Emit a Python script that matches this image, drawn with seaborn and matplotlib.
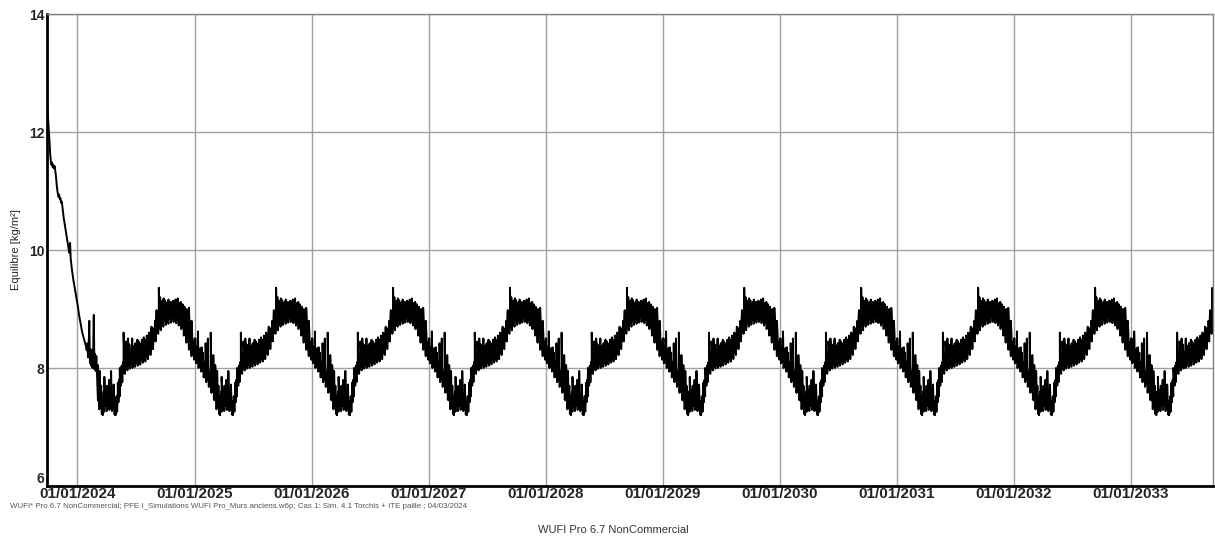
import matplotlib
matplotlib.use("Agg")
import matplotlib.pyplot as plt
import pandas as pd
import seaborn as sns

# ---------------- data ----------------
axis_start = "2023-09-28"
end_date = "2033-09-14"
years = list(range(2024, 2034))
tick_labels = [f"01/01/{y}" for y in years]
y_ticks = [6, 8, 10, 12, 14]

# initial drying transient (days after 2023-09-28)
transient_days = [1] + list(range(2, 157, 2))
transient_vals = [
    12.45, 12.35, 12.15, 11.98, 11.82, 11.62, 11.50, 11.44, 11.48, 11.40,
    11.44, 11.38, 11.42, 11.34, 11.25, 11.12, 11.02, 10.95, 10.90, 10.94,
    10.86, 10.88, 10.80, 10.82, 10.74, 10.64, 10.55, 10.48, 10.40, 10.33,
    10.26, 10.20, 10.14, 10.06, 10.00, 9.95, 10.12, 9.85, 9.75, 9.66,
    9.58, 9.50, 9.44, 9.38, 9.31, 9.24, 9.18, 9.12, 9.06, 8.98,
    8.90, 8.84, 8.78, 8.72, 8.66, 8.60, 8.56, 8.52, 8.48, 8.44,
    8.40, 8.36, 8.30, 8.42, 8.18, 8.36, 8.80, 8.08, 8.32, 8.04,
    8.30, 8.00, 8.26, 8.90, 7.98, 8.24, 7.95, 8.20, 7.92,
]

# periodic yearly regime: lower / upper edge of the noisy band (every 4 days from 1 Jan)
profile_days = list(range(0, 365, 4))
profile_lo = [
    8.18, 8.08, 8.10, 8.00, 8.04, 7.94, 7.95, 7.84, 7.85, 7.76,
    7.80, 7.68, 7.72, 7.58, 7.60, 7.46, 7.45, 7.30, 7.32, 7.22,
    7.30, 7.26, 7.36, 7.27, 7.36, 7.29, 7.38, 7.27, 7.30, 7.21,
    7.24, 7.26, 7.42, 7.52, 7.70, 7.76, 7.92, 7.90, 8.00, 7.96,
    8.04, 7.99, 8.06, 8.00, 8.08, 8.02, 8.09, 8.04, 8.12, 8.06,
    8.14, 8.09, 8.16, 8.11, 8.20, 8.15, 8.26, 8.22, 8.34, 8.32,
    8.46, 8.45, 8.60, 8.58, 8.68, 8.64, 8.76, 8.70, 8.80, 8.73,
    8.82, 8.75, 8.84, 8.77, 8.86, 8.78, 8.85, 8.76, 8.82, 8.72,
    8.76, 8.66, 8.68, 8.55, 8.56, 8.43, 8.44, 8.31, 8.32, 8.20,
    8.22, 8.14,
]
profile_hi = [
    8.50, 8.36, 8.42, 8.28, 8.34, 8.20, 8.26, 8.10, 8.18, 8.02,
    8.10, 7.94, 8.00, 7.86, 7.92, 7.76, 7.80, 7.62, 7.70, 7.52,
    7.60, 7.48, 7.62, 7.46, 7.64, 7.52, 7.66, 7.50, 7.58, 7.44,
    7.52, 7.62, 7.80, 7.92, 8.04, 8.10, 8.20, 8.14, 8.30, 8.22,
    8.34, 8.26, 8.36, 8.28, 8.38, 8.29, 8.39, 8.31, 8.42, 8.34,
    8.45, 8.37, 8.48, 8.40, 8.52, 8.46, 8.58, 8.53, 8.68, 8.64,
    8.80, 8.86, 8.92, 8.98, 8.92, 9.04, 8.94, 9.06, 8.95, 9.07,
    8.96, 9.08, 8.98, 9.10, 9.00, 9.12, 9.01, 9.10, 8.98, 9.08,
    8.96, 9.04, 8.90, 8.94, 8.80, 8.82, 8.66, 8.70, 8.54, 8.58,
    8.44, 8.50,
]
# isolated spikes of the yearly regime (day of year, value)
spike_days = [9, 21, 33, 40, 49, 57, 63, 69, 78, 83, 92, 98, 104, 112, 118, 125,
              131, 143, 151, 157, 161, 170, 180, 186, 190, 200, 206, 215, 222, 230,
              246, 253, 257, 260, 264, 268, 272, 276, 280, 283, 290, 297, 301, 305,
              312, 317, 322, 327, 333, 340, 347, 355]
spike_vals = [8.62, 8.35, 8.42, 8.50, 8.60, 8.22, 8.05, 7.95, 7.20, 7.85, 7.70, 7.80,
              7.95, 7.72, 7.20, 7.75, 8.00, 8.60, 8.45, 8.50, 8.40, 8.50, 8.42, 8.48,
              8.45, 8.48, 8.52, 8.55, 8.60, 8.70, 8.98, 9.36, 9.20, 9.12, 9.14, 9.18,
              9.15, 9.10, 9.12, 9.16, 9.12, 9.14, 9.10, 9.16, 9.18, 9.10, 9.12, 9.08,
              9.04, 9.00, 9.02, 8.80]

# ---------------- build the series ----------------
origin = pd.Timestamp(axis_start)
end = pd.Timestamp(end_date)
dates = [origin + pd.Timedelta(days=d) for d in transient_days]
values = list(transient_vals)
t_end = dates[-1]
for yr in years:
    jan1 = pd.Timestamp(year=yr, month=1, day=1)
    pts = []
    for d, lo, hi in zip(profile_days, profile_lo, profile_hi):
        pts.append((d, lo))
        pts.append((d + 2, hi))
    for d, v in zip(spike_days, spike_vals):
        pts.append((d + 1, v))
    pts.sort(key=lambda p: p[0])
    for d, v in pts:
        dt = jan1 + pd.Timedelta(days=d)
        if t_end < dt <= end:
            dates.append(dt)
            values.append(v)
df = pd.DataFrame({"date": dates, "value": values})

# ---------------- plot ----------------
sns.set_style("white")
plt.rcParams["font.family"] = ["Liberation Sans", "DejaVu Sans"]

fig = plt.figure(figsize=(12.15, 5.36), dpi=100)
ax = fig.add_axes([47 / 1215, 1 - 486 / 536, 1166 / 1215, 472 / 536])

sns.lineplot(data=df, x="date", y="value", color="black", linewidth=1.4,
             estimator=None, sort=False, ax=ax)

ax.set_xlim(origin, end)
ax.set_ylim(6, 14)
ax.set_yticks(y_ticks)
ax.set_yticklabels([str(v) for v in y_ticks], fontsize=10, fontweight="bold")
ax.set_xticks([pd.Timestamp(year=y, month=1, day=1) for y in years])
ax.set_xticklabels(tick_labels, fontsize=11, fontweight="bold")
ax.tick_params(axis="both", length=0)
ax.tick_params(axis="y", pad=2)
ax.tick_params(axis="x", pad=1)
# lift the bottom "6" a little so it does not collide with the first date
ax.get_yticklabels()[0].set_verticalalignment("bottom")

ax.grid(True, color="#a0a0a0", linewidth=1)
ax.set_axisbelow(True)

ax.set_xlabel("")
ax.set_ylabel("Equilibre [kg/m²]", fontsize=8)
ax.yaxis.set_label_coords(-0.0225, 0.5)

for s in ["left", "bottom"]:
    ax.spines[s].set_color("black")
    ax.spines[s].set_linewidth(2)
for s in ["top", "right"]:
    ax.spines[s].set_color("#808080")
    ax.spines[s].set_linewidth(1)

fig.text(10 / 1215, 1 - 506 / 536,
         "WUFI* Pro 6.7 NonCommercial; PFE I_Simulations WUFI Pro_Murs anciens.w6p; "
         "Cas 1: Sim. 4.1 Torchis + ITE paille ; 04/03/2024",
         fontsize=5.7, color="#555555", va="center", ha="left")
fig.text(613 / 1215, 1 - 530 / 536, "WUFI Pro 6.7 NonCommercial",
         fontsize=8, color="#333333", va="center", ha="center")

fig.savefig("out.png", dpi=100, facecolor="white")
